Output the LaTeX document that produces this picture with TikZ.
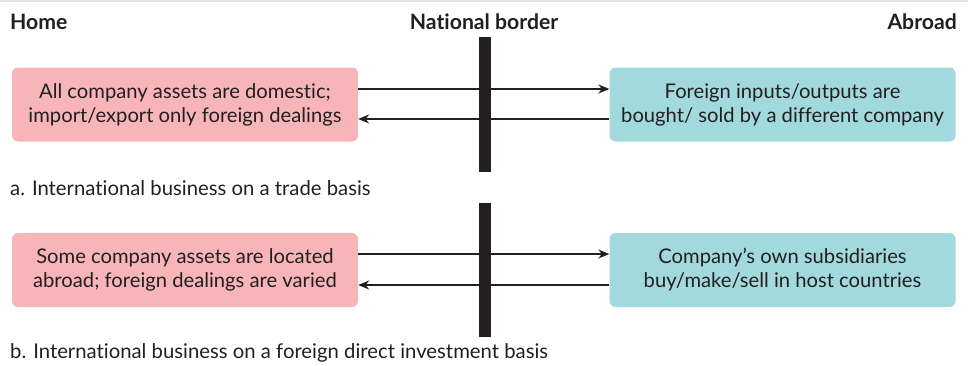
\documentclass[tikz,border=0pt]{standalone}
\usepackage{fontspec}
\setmainfont[Ligatures={NoCommon}]{Lato}
\usetikzlibrary{arrows.meta}
\definecolor{pinkbox}{HTML}{F7B5B9}
\definecolor{tealbox}{HTML}{A2D9DC}
\definecolor{ink}{HTML}{231F20}
\definecolor{topline}{HTML}{DCE6E6}
\tikzset{
  box/.style={rounded corners=6pt, minimum width=346pt, minimum height=74pt, align=center, inner sep=0pt, font=\fontsize{20.2}{24}\selectfont, text=ink},
  homebox/.style={box, fill=pinkbox},
  abroadbox/.style={box, fill=tealbox},
  flow/.style={draw=ink, line width=1.3pt, -{Stealth[length=11pt,width=9pt]}},
  border/.style={fill=ink, draw=none},
  heading/.style={font=\bfseries\fontsize{21.2}{24}\selectfont, text=ink, inner sep=0pt},
  caption/.style={font=\fontsize{20.3}{24}\selectfont, text=ink, inner sep=0pt, anchor=west}
}
\begin{document}
\begin{tikzpicture}[x=1pt,y=-1pt]
\useasboundingbox (0,0) rectangle (968,365);
\draw[topline, line width=2pt] (0,1) -- (968,1);
\node[heading, anchor=west] (home) at (10,22) {Home};
\node[heading] (nat) at (484,22) {National border};
\node[heading, anchor=east] (abroad) at (957,22) {Abroad};
% panel a
\node[homebox] (ha) at (185,104.5) {All company assets are domestic;\\import/export only foreign dealings};
\node[abroadbox] (aa) at (782.5,104.5) {Foreign inputs/outputs are\\bought/ sold by a different company};
\draw[flow] (ha.east |- 0,89) -- (aa.west |- 0,89);
\draw[flow] (aa.west |- 0,119) -- (ha.east |- 0,119);
\path[border] (479,37) rectangle (491,172);
\node[caption] (capa) at (10,188) {a. International business on a trade basis};
% panel b
\node[homebox] (hb) at (185,270) {Some company assets are located\\abroad; foreign dealings are varied};
\node[abroadbox] (ab) at (782.5,270) {Company’s own subsidiaries\\buy/make/sell in host countries};
\draw[flow] (hb.east |- 0,254) -- (ab.west |- 0,254);
\draw[flow] (ab.west |- 0,285) -- (hb.east |- 0,285);
\path[border] (479,203) rectangle (491,337);
\node[caption] (capb) at (10,353) {b. International business on a foreign direct investment basis};
\end{tikzpicture}
\end{document}
